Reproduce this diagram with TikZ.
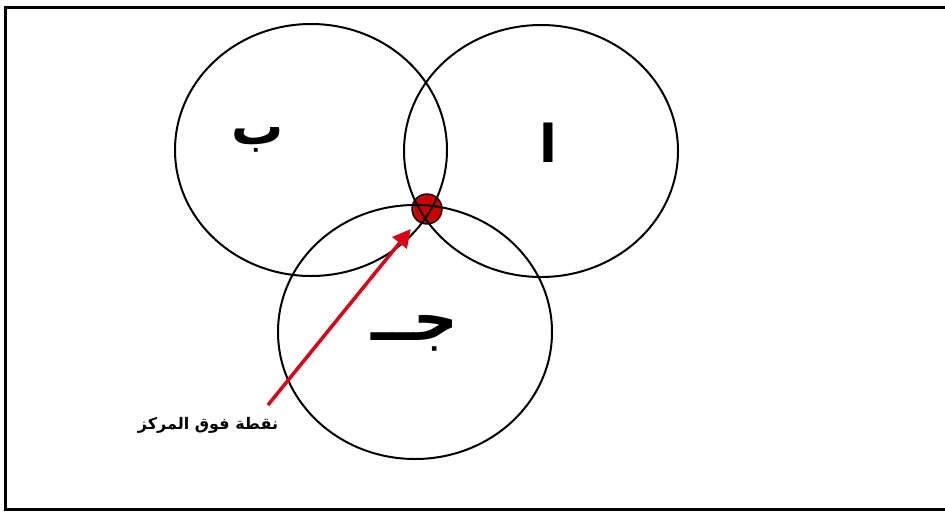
\documentclass[tikz,border=0pt]{standalone}
\usepackage{fontspec}
\usetikzlibrary{shapes.geometric,arrows.meta}
\newfontfamily\arabicfont[Script=Arabic]{DejaVu Sans}
\TeXXeTstate=1
\definecolor{dotred}{RGB}{204,0,0}
\definecolor{arrowred}{RGB}{220,0,20}
\begin{document}
\begin{tikzpicture}[x=1pt,y=-1pt,
 ring/.style={ellipse,draw,line width=2pt,inner sep=0pt},
 letter/.style={font=\arabicfont\bfseries\fontsize{52}{60}\selectfont}]
 \clip (0,0) rectangle (945,512);
 \draw[line width=3pt] (5.5,7.5) rectangle (960,509.5);
 % the point above the centre
 \node[circle,draw,fill=dotred,minimum size=30pt,inner sep=0pt,line width=1.4pt] (dot) at (427,209) {};
 \node[ring,minimum width=272pt,minimum height=252pt] (circB) at (311,150) {};
 \node[ring,minimum width=274pt,minimum height=252pt] (circA) at (541,151) {};
 \node[ring,minimum width=274pt,minimum height=254pt] (circC) at (415,332) {};
 \node[letter] (letB) at (258,140) {\beginR ب\endR};
 \node[letter] (letA) at (548,143) {\beginR ا\endR};
 \node[letter,font=\arabicfont\bfseries\fontsize{62}{70}\selectfont] (letC) at (415,333) {\beginR جــ\endR};
 \node[font=\arabicfont\bfseries\fontsize{16}{20}\selectfont] (lbl) at (208,425) {\beginR نقطة فوق المركز\endR};
 \coordinate (foot) at (268,405);
 \draw[arrowred,line width=3.5pt,-{Triangle[length=18pt,width=18pt]},shorten >=10pt] (foot) -- (dot);
\end{tikzpicture}
\end{document}
